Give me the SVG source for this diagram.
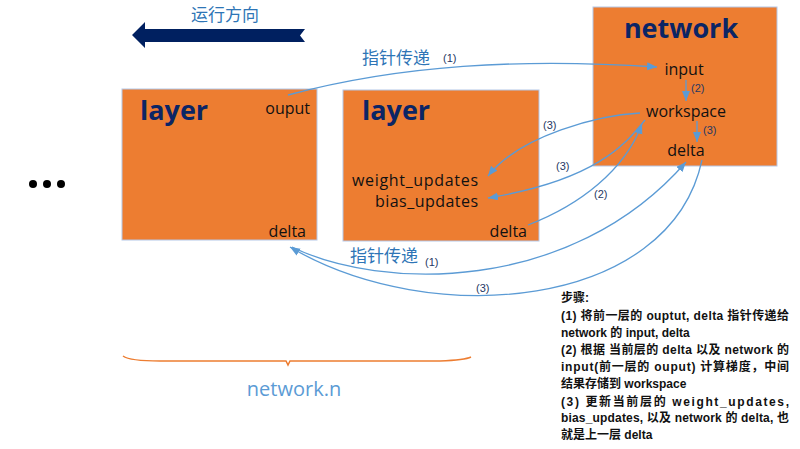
<svg xmlns="http://www.w3.org/2000/svg" width="800" height="449" viewBox="0 0 800 449">
<defs>
<style>
.box{fill:#ED7D31;stroke:#B4C7E7;stroke-width:1}
.title{font-family:"Open Sans","Liberation Sans",sans-serif;font-weight:bold;font-size:27px;fill:#0B2565}
.lbl{font-family:"Open Sans","Liberation Sans",sans-serif;font-size:16px;fill:#111}
.conn{fill:none;stroke:#5B9BD5;stroke-width:1.3}
.num{font-family:"Liberation Sans","Open Sans",sans-serif;font-size:11px;fill:#1F3864}
.cn{font-family:"Noto Sans CJK SC",sans-serif;font-size:17px;fill:#2E75B6}
.step{font-family:"Liberation Sans","Noto Sans CJK SC",sans-serif;font-weight:bold;font-size:12px;fill:#111}
</style>
<marker id="ah" markerUnits="userSpaceOnUse" markerWidth="11" markerHeight="9" refX="10" refY="4" orient="auto">
<path d="M0,0 L10,4 L0,8 z" fill="#5B9BD5"/>
</marker>
</defs>
<rect width="800" height="449" fill="#fff"/>

<g id="direction">
<polygon points="132,35 145,22 145,29 305,29 300,35.5 305,42 145,42 145,48" fill="#002060"/>
<text class="cn" x="225" y="21" text-anchor="middle">运行方向</text>
</g>

<g id="ellipsis" fill="#000">
<circle cx="33" cy="184" r="4"/>
<circle cx="47" cy="184" r="4"/>
<circle cx="61" cy="184" r="4"/>
</g>

<g id="layer1">
<rect class="box" x="122" y="89" width="195" height="151"/>
<text class="title" x="140" y="120">layer</text>
<text class="lbl" x="310" y="114" text-anchor="end">ouput</text>
<text class="lbl" x="306" y="237" text-anchor="end">delta</text>
</g>

<g id="layer2">
<rect class="box" x="343" y="90" width="196" height="151"/>
<text class="title" x="362" y="120">layer</text>
<text class="lbl" x="352" y="186" textLength="126" lengthAdjust="spacing">weight_updates</text>
<text class="lbl" x="375" y="207" textLength="103" lengthAdjust="spacing">bias_updates</text>
<text class="lbl" x="527" y="237" text-anchor="end">delta</text>
</g>

<g id="network">
<rect class="box" x="593" y="7" width="184" height="159"/>
<text class="title" x="681" y="38" text-anchor="middle">network</text>
<text class="lbl" x="684" y="75" text-anchor="middle">input</text>
<text class="lbl" x="686" y="117" text-anchor="middle">workspace</text>
<text class="lbl" x="686" y="156" text-anchor="middle">delta</text>
</g>

<g id="connectors">
<path class="conn" d="M288,95 C400,65 520,58 657,67" marker-end="url(#ah)"/>
<path class="conn" d="M686,80 L686,101" marker-end="url(#ah)"/>
<path class="conn" d="M697,121 L697,142" marker-end="url(#ah)"/>
<path class="conn" d="M640,113 C600,115 520,135 488,176" marker-end="url(#ah)"/>
<path class="conn" d="M645,120 C625,145 595,180 488,198" marker-end="url(#ah)"/>
<path class="conn" d="M528,225 C580,205 625,170 642,124" marker-end="url(#ah)"/>
<path class="conn" d="M292,247 C380,290 570,295 686,162" marker-end="url(#ah)"/>
<path class="conn" d="M702,160 C670,310 430,330 290,247" marker-end="url(#ah)"/>
</g>

<g id="labels">
<text class="cn" x="362" y="64">指针传递</text>
<text class="num" x="443" y="62">(1)</text>
<text class="num" x="691" y="92">(2)</text>
<text class="num" x="703" y="134">(3)</text>
<text class="num" x="543" y="129">(3)</text>
<text class="num" x="556" y="170">(3)</text>
<text class="num" x="594" y="198">(2)</text>
<text class="cn" x="350" y="262">指针传递</text>
<text class="num" x="425" y="266">(1)</text>
<text class="num" x="476" y="292">(3)</text>
</g>

<g id="brace">
<path d="M123,356 Q130,361 160,361 L286,361 L288,365 L290,361 L440,361 Q465,360 471,357" fill="none" stroke="#ED7D31" stroke-width="1.5"/>
<text x="294" y="396" text-anchor="middle" font-family="Open Sans, Liberation Sans, sans-serif" font-size="20" fill="#5B9BD5">network.n</text>
</g>

<g id="steps">
<text class="step" x="561" y="302">步骤:</text>
<text class="step" x="561" y="320" textLength="228" lengthAdjust="spacing">(1) 将前一层的 ouptut, delta 指针传递给</text>
<text class="step" x="561" y="337">network 的 input, delta</text>
<text class="step" x="561" y="354" textLength="228" lengthAdjust="spacing">(2) 根据 当前层的 delta 以及 network 的</text>
<text class="step" x="561" y="371" textLength="228" lengthAdjust="spacing">input(前一层的 ouput) 计算梯度，中间</text>
<text class="step" x="561" y="388">结果存储到 workspace</text>
<text class="step" x="561" y="406" textLength="228" lengthAdjust="spacing">(3) 更新当前层的 weight_updates,</text>
<text class="step" x="561" y="422" textLength="228" lengthAdjust="spacing">bias_updates, 以及 network 的 delta, 也</text>
<text class="step" x="561" y="439">就是上一层 delta</text>
</g>
</svg>
